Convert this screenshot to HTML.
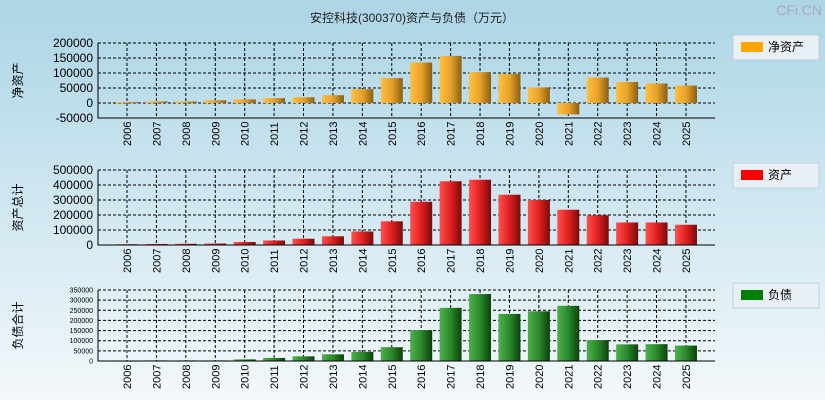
<!DOCTYPE html>
<html><head><meta charset="utf-8"><style>
body{margin:0;width:825px;height:400px;overflow:hidden;font-family:"Liberation Sans","Noto Sans CJK SC",sans-serif;}
svg{display:block}
</style></head><body>
<svg id="c" width="825" height="400" xmlns="http://www.w3.org/2000/svg">
<defs>
<linearGradient id="bg" x1="0" y1="0" x2="0" y2="1"><stop offset="0" stop-color="#acd5e6"/><stop offset="1" stop-color="#f3f8fb"/></linearGradient>
<linearGradient id="go" x1="0" x2="1"><stop offset="0" stop-color="#ffc040"/><stop offset="0.5" stop-color="#e8a22a"/><stop offset="1" stop-color="#8a5e10"/></linearGradient>
<linearGradient id="gr" x1="0" x2="1"><stop offset="0" stop-color="#ff5050"/><stop offset="0.5" stop-color="#e02020"/><stop offset="1" stop-color="#7a0a0a"/></linearGradient>
<linearGradient id="gg" x1="0" x2="1"><stop offset="0" stop-color="#50b050"/><stop offset="0.5" stop-color="#2a8a2a"/><stop offset="1" stop-color="#0c400c"/></linearGradient>
</defs>
<rect width="825" height="400" fill="url(#bg)"/>
<text x="412" y="22" text-anchor="middle" font-size="12" fill="#222">安控科技(300370)资产与负债（万元）</text>
<text x="822" y="15" text-anchor="end" font-size="14" fill="#aab">CFi.CN</text>
<g id="g"></g>
</svg>
<script>
const years=['2006','2007','2008','2009','2010','2011','2012','2013','2014','2015','2016','2017','2018','2019','2020','2021','2022','2023','2024','2025'];
const netAssets=[3000,5000,5000,9000,12000,16000,19000,26000,46000,83000,135000,157000,103000,97000,52000,-38000,85000,70000,65000,58000];
const totalAssets=[5000,7000,8000,10000,20000,30000,42000,58000,90000,158000,288000,425000,435000,335000,300000,235000,198000,150000,150000,135000];
const totalLiabilities=[2000,3000,3000,3000,8000,15000,23000,33000,45000,68000,152000,262000,330000,232000,245000,272000,103000,82000,83000,76000];
const ticks1=[-50000,0,50000,100000,150000,200000];
const ticks2=[0,100000,200000,300000,400000,500000];
const ticks3=[0,50000,100000,150000,200000,250000,300000,350000];
const NS='http://www.w3.org/2000/svg';
const G=document.getElementById('g');
function el(t,a,p){const e=document.createElementNS(NS,t);for(const k in a)e.setAttribute(k,a[k]);(p||G).appendChild(e);return e;}
const X0=98,X1=715,xc=i=>127+i*29.42;
const panels=[
 {vals:netAssets,ticks:ticks1,min:-50000,max:200000,top:43,bot:118,fill:'url(#go)',sw:'#ffa500',title:'净资产',leg:'净资产',ly:35,fs:12,name:'net-assets'},
 {vals:totalAssets,ticks:ticks2,min:0,max:500000,top:170,bot:245,fill:'url(#gr)',sw:'#ff0000',title:'资产总计',leg:'资产',ly:163,fs:12,name:'total-assets'},
 {vals:totalLiabilities,ticks:ticks3,min:0,max:350000,top:290,bot:361,fill:'url(#gg)',sw:'#008000',title:'负债合计',leg:'负债',ly:283,fs:7,name:'total-liabilities'}];
panels.forEach(p=>{
 const y=v=>p.bot-(v-p.min)/(p.max-p.min)*(p.bot-p.top);
 const g=el('g',{});
 
 
 p.ticks.forEach(t=>{
  const l=el('line',{x1:X0,x2:X1,y1:y(t),y2:y(t),stroke:'#000','stroke-dasharray':'3,2'},g);
  
  
  const tx=el('text',{x:X0-5,y:y(t)+(p.fs>8?4:2.5),'text-anchor':'end','font-size':p.fs,fill:'#000'},g);
  tx.textContent=t;
  
  
 });
 years.forEach((yr,i)=>{
  const l=el('line',{x1:xc(i),x2:xc(i),y1:p.top,y2:p.bot,stroke:'#000','stroke-dasharray':'3,2'},g);
  
  
  const v=p.vals[i],y0=y(Math.max(0,p.min)),yv=y(v);
  const r=el('rect',{x:xc(i)-11,y:Math.min(y0,yv),width:22,height:Math.max(1,Math.abs(y0-yv)),fill:p.fill},g);
  
  
  const tx=el('text',{transform:`translate(${xc(i)+4},${p.bot+28}) rotate(-90)`,'font-size':11,fill:'#000'},g);
  tx.textContent=yr;
  
  
 });
 const ax=el('path',{d:`M${X0},${p.top}V${p.bot}H${X1}`,stroke:'#000',fill:'none'},g);
 
 
 const t=el('text',{transform:`translate(22,${(p.top+p.bot)/2}) rotate(-90)`,'text-anchor':'middle','font-size':12,fill:'#000'},g);
 t.textContent=p.title;
 
 
 const lg=el('g',{},g);
 
 
 el('rect',{x:733,y:p.ly,width:86,height:25,fill:'#e8f0f6',stroke:'#c0d0dc'},lg);
 el('rect',{x:741,y:p.ly+7,width:22,height:10,fill:p.sw},lg);
 const lt=el('text',{x:768,y:p.ly+16,'font-size':12,fill:'#000'},lg);
 lt.textContent=p.leg;
});
</script>
</body></html>
